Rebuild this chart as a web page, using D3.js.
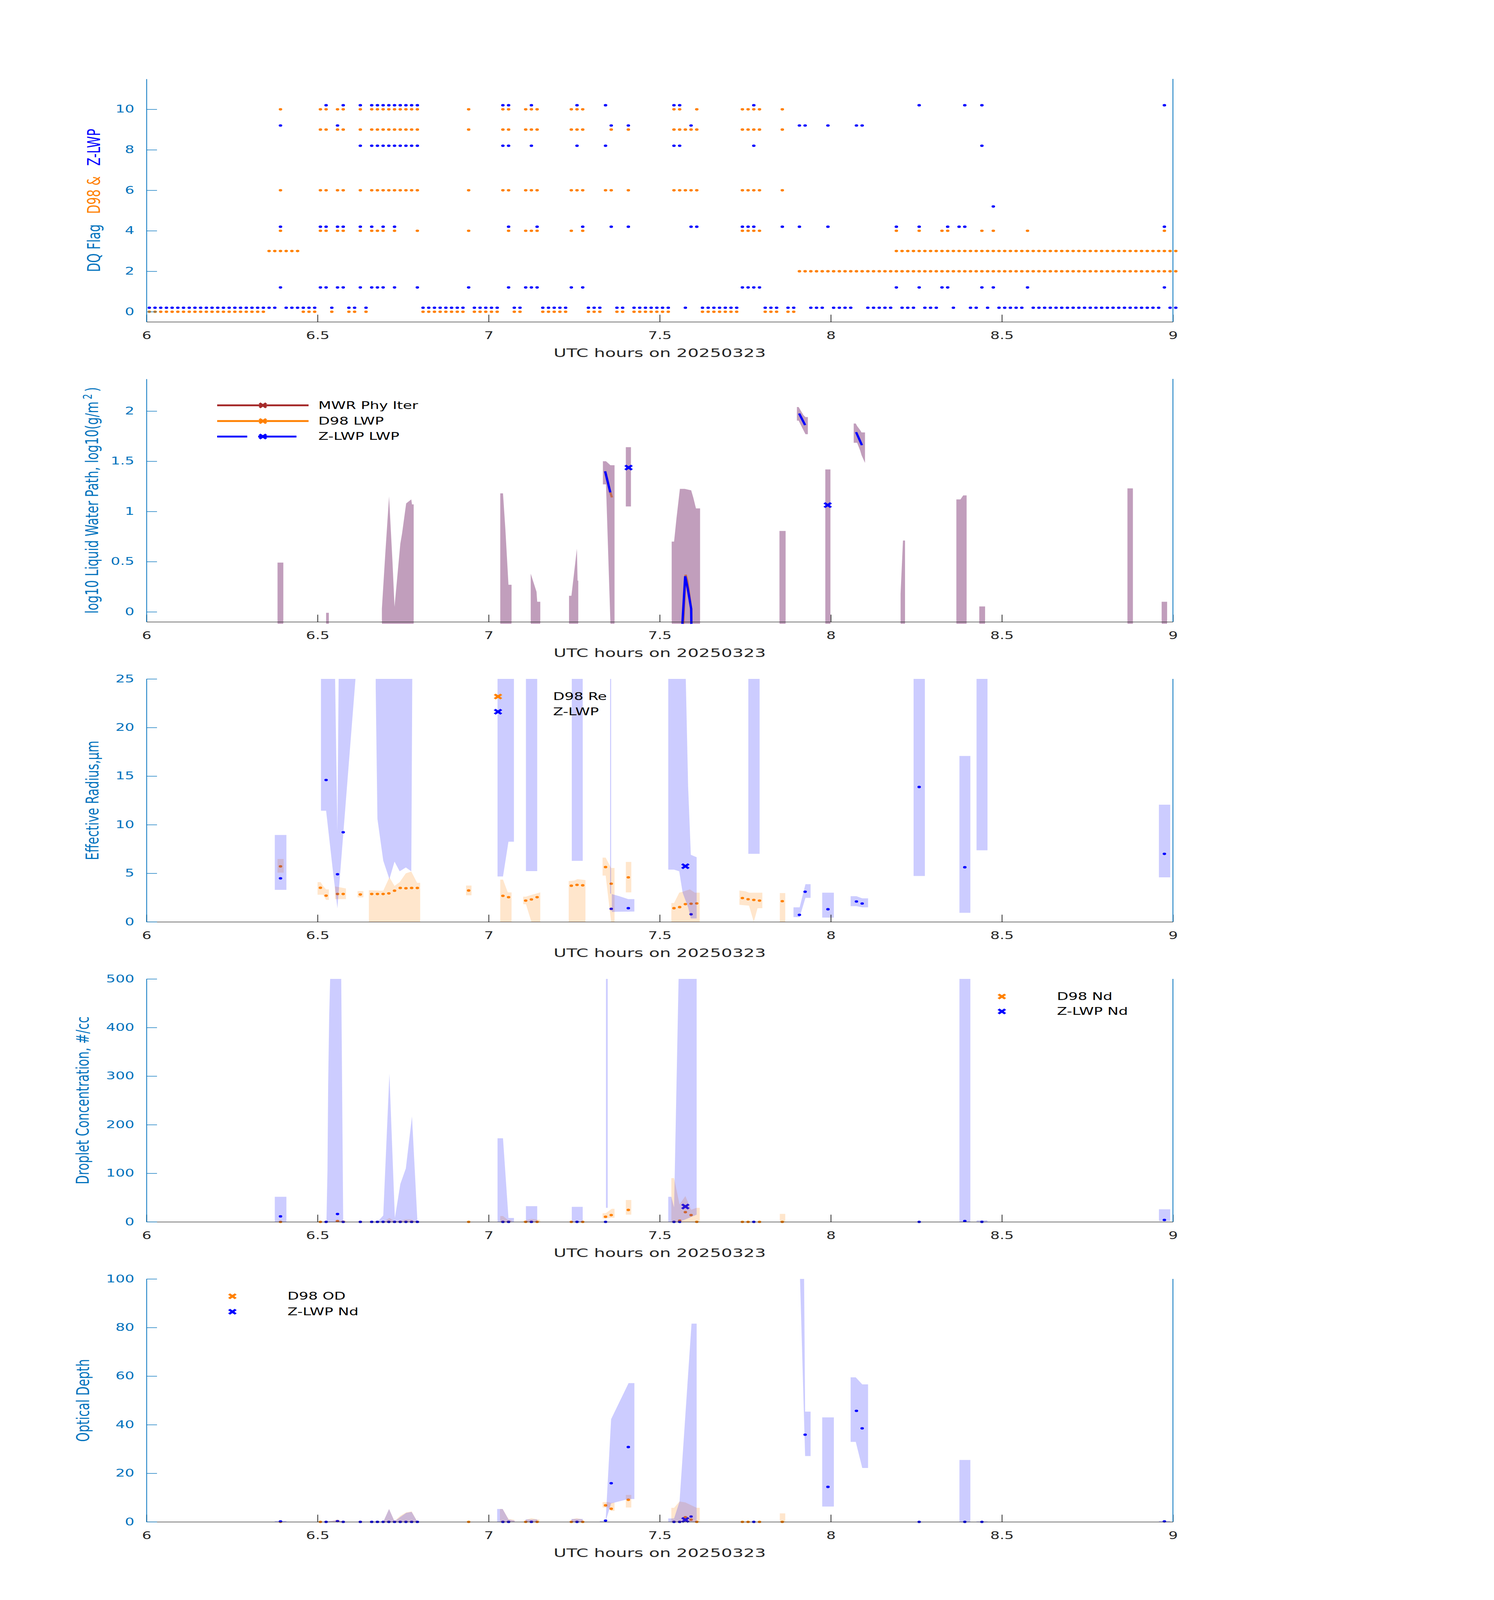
<!DOCTYPE html>
<meta charset="utf-8">

<style type="text/css">
html, body { margin: 0; padding: 0; background: #fff; overflow: hidden; }
#chart svg { display: block; }
text { font-family: "DejaVu Sans", "Liberation Sans", sans-serif; }
.axis path, .axis line { stroke-width: 2; }
</style>
<body>
    <div id="chart"></div>
</body>

<script src="https://d3js.org/d3.v7.min.js"></script>
<script>

// ---- data: DQ flags, one list of minute indices per flag level (time = 6h + (m + 0.5) min) ----
var d98Flag0 = [0,1,2,3,4,5,6,7,8,9,10,11,12,13,14,15,16,17,18,19,20,27,28,29,32,35,36,38,48,49,50,51,52,53,54,55,57,58,59,60,61,64,65,69,70,71,72,73,77,78,79,82,83,85,86,87,88,89,90,91,97,98,99,100,101,102,103,108,109,110,112,113];
var d98Flag2 = [114,115,116,117,118,119,120,121,122,123,124,125,126,127,128,129,130,131,132,133,134,135,136,137,138,139,140,141,142,143,144,145,146,147,148,149,150,151,152,153,154,155,156,157,158,159,160,161,162,163,164,165,166,167,168,169,170,171,172,173,174,175,176,177,178,179,180];
var d98Flag3 = [21,22,23,24,25,26,131,132,133,134,135,136,137,138,139,140,141,142,143,144,145,146,147,148,149,150,151,152,153,154,155,156,157,158,159,160,161,162,163,164,165,166,167,168,169,170,171,172,173,174,175,176,177,178,179,180];
var d98Flag4 = [23,30,31,33,34,37,39,40,41,43,47,56,63,66,67,68,74,76,104,105,106,107,131,135,139,140,146,148,154,178];
var d98Flag6 = [23,30,31,33,34,37,39,40,41,42,43,44,45,46,47,56,62,63,66,67,68,74,75,76,80,81,84,92,93,94,95,96,104,105,106,107,111];
var d98Flag9 = [30,31,33,34,37,39,40,41,42,43,44,45,46,47,56,62,63,66,67,68,74,75,76,81,84,92,93,94,95,96,104,105,106,107,111];
var d98Flag10 = [23,30,31,33,34,37,39,40,41,42,43,44,45,46,47,56,62,63,66,67,68,74,75,76,92,93,96,104,105,106,107,111];

var zlwpFlag0 = [0,1,2,3,4,5,6,7,8,9,10,11,12,13,14,15,16,17,18,19,20,21,22,24,25,26,27,28,29,32,35,36,38,48,49,50,51,52,53,54,55,57,58,59,60,61,64,65,69,70,71,72,73,77,78,79,82,83,85,86,87,88,89,90,91,94,97,98,99,100,101,102,103,108,109,110,112,113,116,117,118,120,121,122,123,126,127,128,129,130,132,133,134,136,137,138,141,144,145,147,149,150,151,152,153,155,156,157,158,159,160,161,162,163,164,165,166,167,168,169,170,171,172,173,174,175,176,177,179,180];
var zlwpFlag1 = [23,30,31,33,34,37,39,40,41,43,47,56,63,66,67,68,74,76,104,105,106,107,131,135,139,140,146,148,154,178];
var zlwpFlag4 = [23,30,31,33,34,37,39,41,43,63,68,76,81,84,95,96,104,105,106,111,114,119,131,135,140,142,143,178];
var zlwpFlag5 = [148];
var zlwpFlag8 = [37,39,40,41,42,43,44,45,46,47,62,63,67,75,80,92,93,106,146];
var zlwpFlag9 = [23,33,81,84,95,114,115,119,124,125];
var zlwpFlag10 = [31,34,37,39,40,41,42,43,44,45,46,47,62,63,67,75,80,92,93,106,135,143,146,178];

// ---- data: log10 LWP; bands are [hour, lo, hi], null = gap ----
var mwrLwpBand = [
  [6.383,-0.12,0.49],[6.400,-0.12,0.49], null,
  [6.525,-0.12,-0.01],[6.533,-0.12,-0.01], null,
  [6.688,-0.12,0.03],[6.698,-0.12,0.58],[6.709,-0.12,1.15],[6.719,-0.12,0.50],[6.725,-0.12,0.05],[6.742,-0.12,0.68],[6.747,-0.12,0.78],[6.759,-0.12,1.08],[6.774,-0.12,1.12],[6.776,-0.12,1.07],[6.781,-0.12,1.07], null,
  [7.034,-0.12,1.18],[7.042,-0.12,1.18],[7.049,-0.12,0.82],[7.058,-0.12,0.27],[7.067,-0.12,0.27], null,
  [7.123,-0.12,0.38],[7.140,-0.12,0.20],[7.142,-0.12,0.10],[7.151,-0.12,0.10], null,
  [7.235,-0.12,0.16],[7.242,-0.12,0.16],[7.258,-0.12,0.63],[7.260,-0.12,0.31],[7.262,-0.12,0.31], null,
  [7.334,1.27,1.50],[7.343,1.27,1.50],[7.356,-0.12,1.46],[7.368,-0.12,1.46], null,
  [7.401,1.05,1.64],[7.416,1.05,1.64], null,
  [7.535,-0.12,0.70],[7.542,-0.12,0.70],[7.549,-0.12,0.93],[7.559,-0.12,1.225],[7.573,-0.12,1.225],[7.592,-0.12,1.21],[7.598,-0.12,1.14],[7.606,-0.12,1.03],[7.618,-0.12,1.03], null,
  [7.850,-0.12,0.806],[7.868,-0.12,0.806], null,
  [7.901,1.905,2.04],[7.906,1.905,2.04],[7.920,1.81,1.96],[7.926,1.77,1.94],[7.933,1.77,1.94], null,
  [7.984,-0.12,1.418],[7.999,-0.12,1.418], null,
  [8.067,1.684,1.876],[8.073,1.684,1.876],[8.077,1.684,1.85],[8.086,1.605,1.81],[8.090,1.56,1.787],[8.100,1.484,1.787], null,
  [8.204,-0.12,0.18],[8.211,-0.12,0.71],[8.217,-0.12,0.71], null,
  [8.367,-0.12,1.12],[8.379,-0.12,1.12],[8.387,-0.12,1.16],[8.397,-0.12,1.16], null,
  [8.434,-0.12,0.054],[8.451,-0.12,0.054], null,
  [8.867,-0.12,1.23],[8.883,-0.12,1.23], null,
  [8.967,-0.12,0.10],[8.983,-0.12,0.10]
];
var d98Lwp = [[7.3405,1.40],[7.3556,1.19],[7.3603,1.14], null,
  [7.5687,-0.12],[7.5757,0.37],[7.5805,0.31],[7.592,0.03],[7.5925,-0.12]];
var zlwpLwp = [[7.3405,1.40],[7.3556,1.19], null,
  [7.5663,-0.12],[7.5745,0.355],[7.5815,0.24],[7.592,0.03],[7.5925,-0.12], null,
  [7.9075,1.976],[7.925,1.86], null,
  [8.074,1.79],[8.091,1.66]];
var zlwpLwpMarks = [[7.409,1.437],[7.991,1.063]];

// ---- data: effective radius ----
var zlwpReBand = [
  [6.375,3.30,8.94],[6.409,3.30,8.94], null,
  [6.510,11.44,40],[6.525,11.44,40],[6.545,5.2,40],[6.558,1.4,9.3],[6.565,4.5,40],[6.612,25.5,60], null,
  [6.670,24,60],[6.675,10.6,60],[6.692,6.3,60],[6.710,4.4,60],[6.725,6.2,60],[6.740,5.2,60],[6.758,5.6,60],[6.774,5.2,60],[6.777,26,60],[6.781,26,60], null,
  [7.026,4.67,40],[7.042,4.67,40],[7.058,8.25,40],[7.074,8.25,40], null,
  [7.109,5.22,40],[7.142,5.22,40], null,
  [7.243,6.28,40],[7.275,6.28,40], null,
  [7.355,2.9,40],[7.358,2.9,40], null,
  [7.360,1.02,2.86],[7.382,1.04,2.64],[7.408,1.05,2.34],[7.426,1.06,2.34], null,
  [7.525,5.38,40],[7.542,5.38,40],[7.557,5.2,40],[7.567,3.0,40],[7.583,1.5,14],[7.591,0.35,6.9],[7.608,0.35,6.65], null,
  [7.567,3.0,7.25],[7.583,3.0,7.25], null,
  [7.759,7.0,40],[7.792,7.0,40], null,
  [7.891,0.49,1.5],[7.909,0.49,1.5],[7.926,2.47,3.88],[7.941,2.47,3.88], null,
  [7.975,0.44,3.0],[8.009,0.44,3.0], null,
  [8.058,1.62,2.64],[8.075,1.62,2.64],[8.092,1.5,2.42],[8.109,1.5,2.42], null,
  [8.242,4.72,40],[8.275,4.72,40], null,
  [8.376,0.93,17.07],[8.408,0.93,17.07], null,
  [8.426,7.37,40],[8.458,7.37,40], null,
  [8.959,4.58,12.06],[8.992,4.58,12.06]
];
var d98ReBand = [
  [6.383,5.06,6.47],[6.401,5.06,6.47], null,
  [6.500,2.79,4.09],[6.509,2.79,4.09],[6.516,2.79,3.7],[6.525,2.26,3.35],[6.533,2.26,3.35], null,
  [6.551,2.34,3.65],[6.567,2.34,3.55],[6.583,2.34,3.44], null,
  [6.617,2.52,3.16],[6.634,2.52,3.16], null,
  [6.650,0,3.26],[6.692,0,3.21],[6.710,0,4.58],[6.725,0,3.70],[6.740,0,4.09],[6.758,0,4.99],[6.774,0,5.17],[6.791,0,4.02],[6.800,0,4.02], null,
  [6.934,2.73,3.74],[6.950,2.73,3.74], null,
  [7.034,0,4.35],[7.042,0,4.35],[7.056,0,3.03],[7.067,0,3.03], null,
  [7.101,1.82,2.59],[7.109,1.82,2.59],[7.125,0,2.77],[7.151,0,3.03], null,
  [7.234,0,4.2],[7.250,0,4.25],[7.260,0,4.4],[7.283,0,4.3], null,
  [7.333,4.76,6.61],[7.342,4.76,6.61],[7.358,0,5.55],[7.368,0,5.55], null,
  [7.401,3.03,6.17],[7.417,3.03,6.17], null,
  [7.534,0,1.94],[7.542,0,1.94],[7.557,0,3.0],[7.567,0,3.09],[7.588,0,3.35],[7.603,0,3.0],[7.617,0,3.0], null,
  [7.733,1.76,3.23],[7.751,1.70,3.14],[7.761,1.67,3.0],[7.775,0,3.0],[7.786,1.41,3.0],[7.800,1.41,3.0], null,
  [7.851,0,2.96],[7.867,0,2.96]
];
var d98Re = [[6.3917,5.71],[6.5083,3.51],[6.5250,2.70],[6.5583,2.87],[6.5750,2.87],[6.6250,2.82],[6.6583,2.87],[6.6750,2.87],[6.6917,2.87],[6.7083,2.93],[6.7250,3.21],[6.7417,3.49],[6.7583,3.46],[6.7750,3.49],[6.7917,3.49],[6.9417,3.23],[7.0417,2.68],[7.0583,2.54],[7.1083,2.19],[7.1250,2.31],[7.1417,2.54],[7.2417,3.72],[7.2583,3.81],[7.2750,3.76],[7.3417,5.64],[7.3583,3.93],[7.4083,4.58],[7.5417,1.41],[7.5583,1.52],[7.5750,1.83],[7.5917,1.87],[7.6083,1.90],[7.7417,2.45],[7.7583,2.33],[7.7750,2.26],[7.7917,2.19],[7.8583,2.13]];
var zlwpRe = [[6.3917,4.48],[6.5250,14.6],[6.5583,4.9],[6.5750,9.22],[7.3583,1.34],[7.4083,1.41],[7.5917,0.78],[7.9083,0.72],[7.9250,3.10],[7.9917,1.30],[8.0750,2.10],[8.0917,1.89],[8.2583,13.88],[8.3917,5.62],[8.9750,7.0]];
var zlwpReMarks = [[7.575,5.73]];

// ---- data: droplet concentration ----
var zlwpNdBand = [
  [6.375,0,51.7],[6.409,0,51.7], null,
  [6.526,0,0],[6.529,0,106],[6.531,0,282],[6.534,0,423],[6.539,0,560],[6.569,0,520],[6.575,0,0], null,
  [6.675,0,0],[6.692,0,13],[6.710,0,305],[6.726,0,8],[6.742,0,78],[6.758,0,110],[6.776,0,217],[6.792,0,0], null,
  [7.026,0,172],[7.042,0,172],[7.058,0,8],[7.074,0,8], null,
  [7.109,0,32.3],[7.142,0,32.3], null,
  [7.243,0,31],[7.275,0,31], null,
  [7.343,29,600],[7.348,29,600], null,
  [7.525,0,51.7],[7.534,0,51.7],[7.542,0,30],[7.558,0,600],[7.608,14.8,600], null,
  [7.567,10,600],[7.583,10,600], null,
  [8.376,0,600],[8.408,0,600], null,
  [8.426,0,3.2],[8.458,0,3.2], null,
  [8.959,1.8,26],[8.992,1.8,26]
];
var d98NdBand = [
  [6.551,0,3],[6.583,0,3], null,
  [6.692,0,0],[6.710,0,8],[6.726,0,1],[6.742,0,3],[6.758,0,5],[6.774,0,5],[6.792,0,0], null,
  [7.034,0,12],[7.042,0,12],[7.056,0,4],[7.067,0,4], null,
  [7.101,0,2],[7.125,0,6],[7.151,0,4], null,
  [7.333,7,17.6],[7.342,7,17.6],[7.360,8.4,27],[7.368,8.4,27], null,
  [7.401,14.8,45],[7.417,14.8,45], null,
  [7.534,0,90],[7.542,0,90],[7.558,0,36],[7.575,0,53],[7.592,0,25],[7.608,0,29],[7.617,0,29], null,
  [7.851,0,16.5],[7.867,0,16.5]
];
var d98Nd = [[6.3917,0],[6.5083,0],[6.5250,0],[6.5583,1.8],[6.5750,0],[6.6250,0],[6.6583,0],[6.6750,0],[6.6917,0],[6.7083,0],[6.7250,0],[6.7417,0],[6.7583,0],[6.7750,0],[6.7917,0],[6.9417,0],[7.0417,0],[7.0583,0],[7.1083,0],[7.1250,0],[7.1417,0],[7.2417,0],[7.2583,0],[7.2750,0],[7.3417,10.5],[7.3583,14.0],[7.4083,24.6],[7.5417,0],[7.5583,2.5],[7.5750,20.0],[7.5917,14.0],[7.6083,0],[7.7417,0],[7.7583,0],[7.7750,0],[7.7917,0],[7.8583,0]];
var zlwpNd = [[6.3917,11.3],[6.5250,0],[6.5583,16.2],[6.5750,0],[6.6250,0],[6.6583,0],[6.6750,0],[6.6917,0],[6.7083,0],[6.7250,0],[6.7417,0],[6.7583,0],[6.7750,0],[6.7917,0],[7.0417,0],[7.0583,0],[7.1250,0],[7.2583,0],[7.3417,0],[7.5417,0],[7.5583,0],[7.7750,0],[8.2583,0],[8.3917,1.8],[8.4417,0],[8.9750,3.9]];
var zlwpNdMarks = [[7.575,31.6]];

// ---- data: optical depth ----
var zlwpOdBand = [
  [6.375,0,0.4],[6.409,0,0.4], null,
  [6.525,0,0.1],[6.558,0,0.7],[6.575,0,0.1], null,
  [6.692,0,0],[6.709,0,5.3],[6.725,0,0.2],[6.742,0,2.0],[6.759,0,3.7],[6.775,0,4.1],[6.792,0,0], null,
  [7.025,0,5.3],[7.041,0,5.3],[7.058,0,1.0],[7.076,0,0.5], null,
  [7.108,0,1.0],[7.142,0,1.0], null,
  [7.242,0,1.2],[7.275,0,1.2], null,
  [7.325,0,0.4],[7.342,0.2,0.5],[7.358,7.6,42.3],[7.409,9.4,57.1],[7.426,9.4,57.1], null,
  [7.525,0,1.4],[7.542,0,1.4],[7.558,0,8.4],[7.593,0,81.6],[7.608,0,81.6], null,
  [7.567,0,8.7],[7.583,0,8.7], null,
  [7.910,100.5,130],[7.922,41.6,100.5],[7.925,27.1,45.4],[7.941,27.1,45.4], null,
  [7.975,6.3,43],[8.009,6.3,43], null,
  [8.058,32.9,59.5],[8.073,32.9,59.5],[8.092,22.2,56.6],[8.109,22.2,56.6], null,
  [8.376,0,25.5],[8.408,0,25.5], null,
  [8.426,0,0.2],[8.458,0,0.2], null,
  [8.959,0,0.4],[8.992,0,0.4]
];
var d98OdBand = [
  [6.525,0,0],[6.558,0,0.9],[6.575,0,0.1], null,
  [6.692,0,0],[6.709,0,5.3],[6.725,0,0.3],[6.742,0,2.5],[6.759,0,3.9],[6.775,0,4.3],[6.792,0,0], null,
  [7.033,0,5.3],[7.041,0,5.3],[7.058,0,1.2],[7.076,0,0.8], null,
  [7.108,0,0.9],[7.125,0,1.5],[7.149,0,0.9], null,
  [7.242,0,1.0],[7.257,0,1.5],[7.275,0,1.0], null,
  [7.333,5.9,8.1],[7.351,5.9,8.1],[7.358,4.5,7.8],[7.368,4.5,8.0], null,
  [7.401,5.9,11.1],[7.417,5.9,11.1], null,
  [7.534,0,5.8],[7.542,0,5.8],[7.558,0,8.4],[7.575,0,8.0],[7.593,0,6.8],[7.608,0,5.8],[7.617,0,5.8], null,
  [7.851,0,3.5],[7.867,0,3.5]
];
var d98Od = [[6.3917,0],[6.5083,0],[6.5250,0],[6.5583,0.3],[6.5750,0],[6.6250,0],[6.6583,0],[6.6750,0],[6.6917,0],[6.7083,0],[6.7250,0],[6.7417,0],[6.7583,0],[6.7750,0],[6.7917,0],[6.9417,0],[7.0417,0],[7.0583,0],[7.1083,0],[7.1250,0],[7.1417,0],[7.2417,0],[7.2583,0],[7.2750,0],[7.3417,6.8],[7.3583,5.4],[7.4083,9.1],[7.5417,0],[7.5583,0],[7.5750,1.9],[7.5917,0.9],[7.6083,0],[7.7417,0],[7.7583,0],[7.7750,0],[7.7917,0],[7.8583,0]];
var zlwpOd = [[6.3917,0.2],[6.5250,0],[6.5583,0.3],[6.5750,0],[6.6250,0],[6.6583,0],[6.6750,0],[6.6917,0],[6.7083,0],[6.7250,0],[6.7417,0],[6.7583,0],[6.7750,0],[6.7917,0],[7.0417,0],[7.0583,0],[7.1250,0],[7.2583,0],[7.3417,0.5],[7.3583,15.9],[7.4083,30.8],[7.5417,0],[7.5583,0],[7.5917,2.2],[7.7750,0],[7.9250,35.9],[7.9917,14.4],[8.0750,45.7],[8.0917,38.5],[8.2583,0],[8.3917,0],[8.4417,0],[8.9750,0.2]];
var zlwpOdMarks = [[7.575,0.8]];

// ---- tick values ----
var xTicks = [6, 6.5, 7, 7.5, 8, 8.5, 9];
var flagTicks = [0, 2, 4, 6, 8, 10];
var lwpTicks = [0, 0.5, 1, 1.5, 2];
var reTicks = [0, 5, 10, 15, 20, 25];
var ndTicks = [0, 100, 200, 300, 400, 500];
var odTicks = [0, 20, 40, 60, 80, 100];

// ---- layout (drawn in a 3825 x 6000 coordinate space) ----
var W = 3825, H = 6000;
var left = 375, right = 3003, plotH = 911;
var tops = [296, 1421, 2546, 3671, 4796];
var axisBlue = "#0072BD", axisGray = "#262626";
var orange = "#FF8000", blue = "#0000FF", mwrRed = "#A52A2A";
var tickFont = 38, labelFont = 45;

// fit the drawing into whatever viewport the page is shown in
var vw = window.innerWidth || W, vh = window.innerHeight || H;
var svg = d3.select("#chart").append("svg")
    .attr("width", vw)
    .attr("height", vh)
    .attr("viewBox", "0 0 " + W + " " + H)
    .attr("preserveAspectRatio", "none");
svg.append("rect").attr("width", W).attr("height", H).attr("fill", "#fff");

var xScale = d3.scaleLinear().domain([6, 9]).range([left, right]);
var fmt = d3.format("~g");

function hourOf(m) { return 6 + (m + 0.5) / 60; }

function makePanel(k, yDomain, yTicks) {
    var top = tops[k], bottom = top + plotH;
    var y = d3.scaleLinear().domain(yDomain).range([bottom, top]);
    var g = svg.append("g").attr("class", "panel" + k);
    g.append("clipPath").attr("id", "clip" + k)
      .append("rect")
        .attr("x", left - 40).attr("y", top)
        .attr("width", right - left + 80).attr("height", plotH + 12);
    var plot = g.append("g").attr("clip-path", "url(#clip" + k + ")");
    return {g: g, plot: plot, y: y, top: top, bottom: bottom, ticks: yTicks};
}

function drawAxes(p, yLabelX) {
    // x axis, ticks pointing inward
    var xa = p.g.append("g")
        .attr("class", "axis")
        .attr("transform", "translate(0," + p.bottom + ")")
        .call(d3.axisBottom(xScale).tickValues(xTicks).tickFormat(fmt)
            .tickSizeInner(-27).tickSizeOuter(0).tickPadding(37));
    xa.select(".domain").attr("stroke", axisGray);
    xa.selectAll(".tick line").attr("stroke", axisGray);
    xa.selectAll("text").attr("fill", axisGray).attr("font-size", tickFont)
        .attr("font-family", "DejaVu Sans");

    // right edge line
    p.g.append("line")
        .attr("x1", right).attr("x2", right)
        .attr("y1", p.top).attr("y2", p.bottom)
        .attr("stroke", axisBlue).attr("stroke-width", 2);

    // left y axis
    var ya = p.g.append("g")
        .attr("class", "axis")
        .attr("transform", "translate(" + left + ",0)")
        .call(d3.axisLeft(p.y).tickValues(p.ticks).tickFormat(fmt)
            .tickSizeInner(-27).tickSizeOuter(0).tickPadding(31));
    ya.select(".domain").attr("stroke", axisBlue);
    ya.selectAll(".tick line").attr("stroke", axisBlue);
    ya.selectAll("text").attr("fill", axisBlue).attr("font-size", tickFont)
        .attr("font-family", "DejaVu Sans");

    // x label
    p.g.append("text")
        .attr("x", (left + right) / 2)
        .attr("y", p.bottom + 132)
        .attr("text-anchor", "middle")
        .attr("font-size", labelFont)
        .attr("fill", axisGray)
        .text("UTC hours on 20250323");

    // y label holder (rotated)
    return p.g.append("text")
        .attr("transform", "translate(" + yLabelX + "," + ((p.top + p.bottom) / 2) + ") rotate(-90)")
        .attr("text-anchor", "middle")
        .attr("font-size", labelFont)
        .attr("fill", axisBlue);
}

function drawBand(p, data, color, opacity) {
    var area = d3.area()
        .defined(function(d) { return d !== null; })
        .x(function(d) { return xScale(d[0]); })
        .y0(function(d) { return p.y(d[1]); })
        .y1(function(d) { return p.y(d[2]); });
    p.plot.append("path")
        .datum(data)
        .attr("d", area)
        .attr("fill", color)
        .attr("fill-opacity", opacity)
        .attr("stroke", "none");
}

function drawLine(p, data, color) {
    var line = d3.line()
        .defined(function(d) { return d !== null; })
        .x(function(d) { return xScale(d[0]); })
        .y(function(d) { return p.y(d[1]); });
    p.plot.append("path")
        .datum(data)
        .attr("d", line)
        .attr("fill", "none")
        .attr("stroke", color)
        .attr("stroke-width", 6);
}

function drawDots(sel, data, xf, yf, color) {
    sel.selectAll(null)
        .data(data)
      .enter().append("circle")
        .attr("cx", xf)
        .attr("cy", yf)
        .attr("r", 4.5)
        .attr("fill", color);
}

function xMark(sel, cx, cy, color) {
    sel.append("path")
        .attr("d", "M-8.5,-8.5L8.5,8.5M-8.5,8.5L8.5,-8.5")
        .attr("transform", "translate(" + cx + "," + cy + ")")
        .attr("fill", "none")
        .attr("stroke", color)
        .attr("stroke-width", 7);
}

function drawMarks(p, data, color) {
    data.forEach(function(d) { xMark(p.plot, xScale(d[0]), p.y(d[1]), color); });
}

function markerLegend(p, mx, tx, ys, entries) {
    entries.forEach(function(e, i) {
        xMark(p.g, mx, ys[i], e[1]);
        p.g.append("text")
            .attr("x", tx).attr("y", ys[i] + 13)
            .attr("font-size", tickFont)
            .attr("fill", "#000")
            .text(e[0]);
    });
}

// ===== Panel 1: DQ flags =====
var p1 = makePanel(0, [-0.5, 11.5], flagTicks);
var d98Rows = [[0, d98Flag0], [2, d98Flag2], [3, d98Flag3], [4, d98Flag4], [6, d98Flag6], [9, d98Flag9], [10, d98Flag10]];
var zlwpRows = [[0, zlwpFlag0], [1, zlwpFlag1], [4, zlwpFlag4], [5, zlwpFlag5], [8, zlwpFlag8], [9, zlwpFlag9], [10, zlwpFlag10]];
d98Rows.forEach(function(r) {
    drawDots(p1.g, r[1], function(m) { return xScale(hourOf(m)); }, function() { return p1.y(r[0]); }, orange);
});
zlwpRows.forEach(function(r) {
    drawDots(p1.g, r[1], function(m) { return xScale(hourOf(m)); }, function() { return p1.y(r[0] + 0.2); }, blue);
});
var yl1 = drawAxes(p1, 256);
yl1.append("tspan").attr("fill", axisBlue).text("DQ Flag");
yl1.append("tspan").attr("fill", orange).attr("dx", 39).text("D98 &");
yl1.append("tspan").attr("fill", blue).attr("dx", 39).text("Z-LWP");

// ===== Panel 2: log10 LWP =====
var p2 = makePanel(1, [-0.1, 2.32], lwpTicks);
drawLine(p2, d98Lwp, orange);
drawBand(p2, mwrLwpBand, "rgb(152,93,143)", 0.6);
drawLine(p2, zlwpLwp, blue);
drawMarks(p2, zlwpLwpMarks, blue);
var yl2 = drawAxes(p2, 251);
yl2.append("tspan").text("log10 Liquid Water Path, log10(g/m");
yl2.append("tspan").attr("font-size", 32).attr("dx", 8).attr("dy", -16).text("2");
yl2.append("tspan").attr("dx", 8).attr("dy", 16).text(")");

var lwpLegend = [["MWR Phy Iter", mwrRed, false], ["D98 LWP", orange, false], ["Z-LWP LWP", blue, true]];
var lwpLegendY = [1520, 1579, 1637];
lwpLegend.forEach(function(e, i) {
    p2.g.append("line")
        .attr("x1", 556).attr("x2", 790)
        .attr("y1", lwpLegendY[i]).attr("y2", lwpLegendY[i])
        .attr("stroke", e[1]).attr("stroke-width", 7)
        .attr("stroke-dasharray", e[2] ? "77,28,98,40" : null);
    xMark(p2.g, 673, lwpLegendY[i], e[1]);
    p2.g.append("text")
        .attr("x", 815).attr("y", lwpLegendY[i] + 13)
        .attr("font-size", tickFont).attr("fill", "#000")
        .text(e[0]);
});

// ===== Panel 3: effective radius =====
var p3 = makePanel(2, [0, 25], reTicks);
drawDots(p3.plot, d98Re, function(d) { return xScale(d[0]); }, function(d) { return p3.y(d[1]); }, orange);
drawDots(p3.plot, zlwpRe, function(d) { return xScale(d[0]); }, function(d) { return p3.y(d[1]); }, blue);
drawMarks(p3, zlwpReMarks, blue);
drawBand(p3, d98ReBand, orange, 0.2);
drawBand(p3, zlwpReBand, blue, 0.2);
drawAxes(p3, 252).text("Effective Radius,\u03bcm");
markerLegend(p3, 1275, 1416, [2612, 2669], [["D98 Re", orange], ["Z-LWP", blue]]);

// ===== Panel 4: droplet concentration =====
var p4 = makePanel(3, [0, 500], ndTicks);
drawDots(p4.plot, d98Nd, function(d) { return xScale(d[0]); }, function(d) { return p4.y(d[1]); }, orange);
drawDots(p4.plot, zlwpNd, function(d) { return xScale(d[0]); }, function(d) { return p4.y(d[1]); }, blue);
drawMarks(p4, zlwpNdMarks, blue);
drawBand(p4, d98NdBand, orange, 0.2);
drawBand(p4, zlwpNdBand, blue, 0.2);
drawAxes(p4, 227).text("Droplet Concentration, #/cc");
markerLegend(p4, 2565, 2706, [3737, 3793], [["D98 Nd", orange], ["Z-LWP Nd", blue]]);

// ===== Panel 5: optical depth =====
var p5 = makePanel(4, [0, 100], odTicks);
drawDots(p5.plot, d98Od, function(d) { return xScale(d[0]); }, function(d) { return p5.y(d[1]); }, orange);
drawDots(p5.plot, zlwpOd, function(d) { return xScale(d[0]); }, function(d) { return p5.y(d[1]); }, blue);
drawMarks(p5, zlwpOdMarks, blue);
drawBand(p5, d98OdBand, orange, 0.2);
drawBand(p5, zlwpOdBand, blue, 0.2);
drawAxes(p5, 228).text("Optical Depth");
markerLegend(p5, 595, 736, [4861, 4919], [["D98 OD", orange], ["Z-LWP Nd", blue]]);

</script>
